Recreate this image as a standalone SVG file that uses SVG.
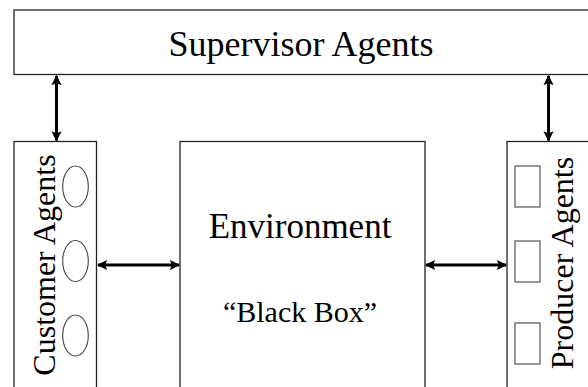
<svg xmlns="http://www.w3.org/2000/svg" width="588" height="387" viewBox="0 0 588 387">
<style>
.box{fill:#fff;stroke:#222;stroke-width:1.3}
.in{fill:#fff;stroke:#444;stroke-width:1.1}
.t{font-family:"Liberation Serif","Times New Roman",serif;fill:#000}
.c{stroke:#000;stroke-width:3;fill:none;marker-start:url(#ah);marker-end:url(#ah)}
</style>
<defs>
<marker id="ah" viewBox="0 0 10 10" refX="9" refY="5" markerWidth="3.4" markerHeight="3.4" orient="auto-start-reverse" markerUnits="strokeWidth">
<path d="M0,0 L10,5 L0,10 L2,5 Z" fill="#000"/>
</marker>
</defs>
<rect width="588" height="387" fill="#fff"/>
<g id="supervisor">
<rect class="box" x="14" y="10" width="580" height="64.5"/>
<text class="t" x="301" y="56" font-size="36" text-anchor="middle">Supervisor Agents</text>
</g>
<g id="customer">
<rect class="box" x="14" y="141.5" width="82.5" height="260"/>
<text class="t" font-size="32" text-anchor="middle" transform="translate(55,265) rotate(-90)">Customer Agents</text>
<ellipse class="in" cx="75.5" cy="186.5" rx="12.8" ry="20.5"/>
<ellipse class="in" cx="75.5" cy="261" rx="12.8" ry="20.5"/>
<ellipse class="in" cx="75.5" cy="335.5" rx="12.8" ry="20.5"/>
</g>
<g id="environment">
<rect class="box" x="180" y="141.5" width="245" height="260"/>
<text class="t" x="300" y="238" font-size="35" text-anchor="middle">Environment</text>
<text class="t" x="300" y="321.5" font-size="30" text-anchor="middle">“Black Box”</text>
</g>
<g id="producer">
<rect class="box" x="507" y="141.5" width="90" height="260"/>
<text class="t" font-size="32" text-anchor="middle" transform="translate(573,263) rotate(-90)">Producer Agents</text>
<rect class="in" x="515" y="166" width="25" height="41"/>
<rect class="in" x="515" y="241" width="25" height="41"/>
<rect class="in" x="515" y="323" width="25" height="41"/>
</g>
<g id="connectors">
<line class="c" x1="56.5" y1="76" x2="56.5" y2="140.5"/>
<line class="c" x1="548.5" y1="76" x2="548.5" y2="140.5"/>
<line class="c" x1="98" y1="265" x2="179" y2="265"/>
<line class="c" x1="426" y1="265" x2="506" y2="265"/>
</g>
</svg>
